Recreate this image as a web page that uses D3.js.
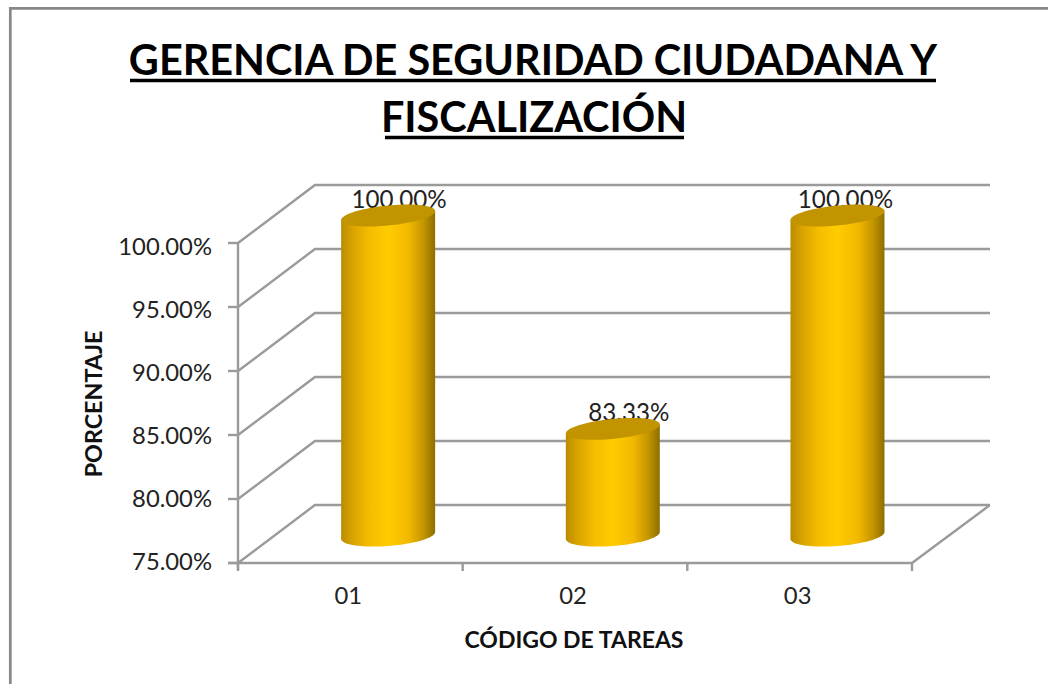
<!DOCTYPE html>
<html><head><meta charset="utf-8">
<script src="https://cdn.jsdelivr.net/npm/d3@7/dist/d3.min.js"></script>
<style>html,body{margin:0;padding:0;background:#fff}svg{display:block}text{font-family:Lato,"Open Sans",sans-serif}</style>
</head><body><svg id="c" width="1048" height="684"></svg>
<script>
const categories=["01","02","03"];
const values=[100,83.33,100];
const valueLabels=["100.00%","83.33%","100.00%"];
const tickValues=[75,80,85,90,95,100];
const titleLines=["GERENCIA DE SEGURIDAD CIUDADANA Y","FISCALIZACIÓN"];
const yTitle="PORCENTAJE", xTitle="CÓDIGO DE TAREAS";

const svg=d3.select("#c");
const depthX=77, depthXRight=78, depthY=-58;
const y=d3.scaleLinear().domain([75,100]).range([563,243]);
const yLab=d3.scaleLinear().domain([75,100]).range([562,247]);
const x=d3.scaleBand().domain(categories).range([238,912]);
const grey="#9a9a9a", sw=2.4;

// chart frame
svg.append("path").attr("d","M10.3 684V8.4H1048").attr("fill","none").attr("stroke","#888").attr("stroke-width",2.7);

// gradient
const defs=svg.append("defs");
const g=defs.append("linearGradient").attr("id","cyl");
[[0,"#b98c00"],[.12,"#d9a300"],[.3,"#f5bd00"],[.5,"#ffcc00"],[.72,"#f2b800"],[.88,"#c29400"],[1,"#8c6e00"]]
 .forEach(([o,c])=>g.append("stop").attr("offset",o).attr("stop-color",c));

// grid: walls and floor
tickValues.forEach(v=>{
  svg.append("path").attr("fill","none").attr("stroke",grey).attr("stroke-width",sw)
   .attr("d",d3.line()([[x.range()[0],y(v)],[x.range()[0]+depthX,y(v)+depthY],[x.range()[1]+depthXRight,y(v)+depthY]]));
});
svg.append("line").attr("x1",x.range()[1]).attr("y1",y(75)).attr("x2",x.range()[1]+depthXRight).attr("y2",y(75)+depthY).attr("stroke",grey).attr("stroke-width",sw);

// axes
svg.append("line").attr("x1",238).attr("x2",238).attr("y1",y(100)).attr("y2",y(75)+7).attr("stroke",grey).attr("stroke-width",sw);
svg.append("line").attr("x1",228).attr("x2",912).attr("y1",y(75)).attr("y2",y(75)).attr("stroke",grey).attr("stroke-width",sw);
tickValues.forEach(v=>svg.append("line").attr("x1",228).attr("x2",238).attr("y1",y(v)).attr("y2",y(v)).attr("stroke",grey).attr("stroke-width",sw));
[...categories.map(c=>x(c)),x.range()[1]].forEach(px=>svg.append("line").attr("x1",px).attr("x2",px).attr("y1",y(75)).attr("y2",y(75)+8).attr("stroke",grey).attr("stroke-width",sw));

tickValues.forEach(v=>svg.append("text").attr("x",212).attr("y",yLab(v)).attr("dy","0.35em").attr("text-anchor","end")
  .attr("font-size",23.8).attr("fill","#222").text(v.toFixed(2)+"%"));
categories.forEach(c=>svg.append("text").attr("x",x(c)+x.bandwidth()/2-2).attr("y",596).attr("dy","0.35em").attr("text-anchor","middle")
  .attr("font-size",23.8).attr("fill","#222").text(c));

// data labels (behind cylinders)
const labelShift=[11,16,8];
const cxOf=c=>x(c)+x.bandwidth()/2+depthX/2-0.7;
categories.forEach((c,i)=>{
  svg.append("text").attr("x",cxOf(c)+labelShift[i]).attr("y",y(values[i])-30-5.5).attr("text-anchor","middle")
   .attr("font-size",24.2).attr("fill","#222").text(valueLabels[i]);
});

// cylinders
const rx=47, floorShift=-27.5;
const pt=(cx,cy,b,k,t)=>[cx+rx*Math.cos(t),cy+b*Math.sin(t)-k*Math.cos(t)];
categories.forEach((c,i)=>{
  const cx=cxOf(c);
  const top=y(values[i])+floorShift, bot=y(75)+floorShift;
  const topTs=d3.range(0,2*Math.PI+.01,Math.PI/40);
  const botTs=d3.range(Math.PI,-0.001,-Math.PI/40);
  const bodyPts=[pt(cx,top,10,4.5,Math.PI),...botTs.map(t=>pt(cx,bot,10.5,3.5,t)),pt(cx,top,10,4.5,0)];
  svg.append("path").attr("d",d3.line()(bodyPts)+"Z").attr("fill","url(#cyl)");
  svg.append("path").attr("d",d3.line()(topTs.map(t=>pt(cx,top,10,4.5,t)))+"Z").attr("fill","#c29400");
});

// titles
const t1=[[533,75],[534,132]];
titleLines.forEach((s,i)=>{
  svg.append("text").attr("x",t1[i][0]).attr("y",t1[i][1]).attr("text-anchor","middle")
   .attr("font-size",41.4).attr("font-weight",700).attr("fill","#000").text(s);
});
[[130,936,80.5],[385,684,137.5]].forEach(u=>svg.append("line").attr("x1",u[0]).attr("x2",u[1]).attr("y1",u[2]).attr("y2",u[2]).attr("stroke","#000").attr("stroke-width",3.5));
svg.append("text").attr("x",574).attr("y",640).attr("dy","0.35em").attr("text-anchor","middle").attr("font-size",23).attr("font-weight",700).attr("fill","#111").text(xTitle);
svg.append("text").attr("transform","translate(94,404) rotate(-90)").attr("dy","0.35em").attr("text-anchor","middle").attr("font-size",23.3).attr("font-weight",700).attr("fill","#111").text(yTitle);
</script></body></html>
